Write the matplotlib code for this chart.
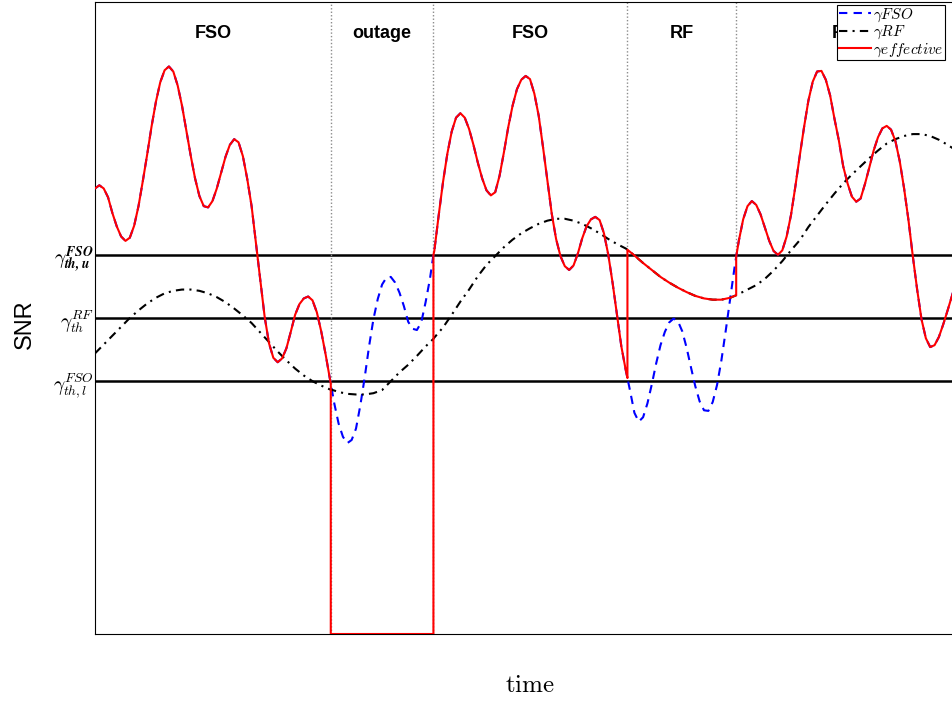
"""
Hybrid FSO/RF link: switching between links with hysteresis thresholds
"""
import numpy as np
import matplotlib
matplotlib.use("Agg")
import matplotlib.pyplot as plt

plt.rcParams['mathtext.fontset'] = 'cm'

# FSO link SNR, sampled every 0.05 time units
t_fso = np.round(np.arange(0, 10.001, 0.05), 2)
snr_fso = [7.05, 7.10, 7.05, 6.91, 6.66, 6.45, 6.29, 6.22, 6.27, 6.46,
           6.77, 7.17, 7.59, 8.03, 8.42, 8.73, 8.92, 8.98, 8.90, 8.68,
           8.36, 7.97, 7.57, 7.21, 6.93, 6.77, 6.75, 6.85, 7.05, 7.30,
           7.55, 7.74, 7.83, 7.78, 7.56, 7.20, 6.77, 6.18, 5.60, 5.02,
           4.60, 4.37, 4.30, 4.36, 4.52, 4.78, 5.05, 5.22, 5.31, 5.34,
           5.28, 5.09, 4.79, 4.43, 4.03, 3.65, 3.33, 3.12, 3.02, 3.07,
           3.25, 3.62, 4.06, 4.55, 4.98, 5.30, 5.53, 5.64, 5.65, 5.56,
           5.40, 5.19, 4.94, 4.83, 4.81, 4.93, 5.25, 5.62, 6.06, 6.62,
           7.15, 7.60, 7.95, 8.17, 8.24, 8.17, 7.99, 7.74, 7.46, 7.21,
           7.02, 6.94, 6.99, 7.25, 7.62, 8.02, 8.36, 8.62, 8.77, 8.83,
           8.78, 8.55, 8.20, 7.70, 7.18, 6.65, 6.25, 5.98, 5.82, 5.76,
           5.83, 6.02, 6.26, 6.45, 6.56, 6.60, 6.55, 6.34, 6.00, 5.55,
           5.05, 4.55, 4.18, 3.85, 3.50, 3.36, 3.43, 3.65, 3.95, 4.28,
           4.57, 4.78, 4.93, 4.99, 4.95, 4.79, 4.53, 4.22, 3.92, 3.68,
           3.54, 3.53, 3.67, 3.94, 4.33, 4.80, 5.30, 5.79, 6.22, 6.56,
           6.77, 6.85, 6.79, 6.64, 6.43, 6.22, 6.06, 6.00, 6.07, 6.29,
           6.63, 7.08, 7.56, 8.02, 8.44, 8.74, 8.90, 8.91, 8.77, 8.52,
           8.15, 7.81, 7.40, 7.13, 6.92, 6.84, 6.89, 7.12, 7.38, 7.65,
           7.86, 8.00, 8.04, 7.98, 7.80, 7.48, 7.05, 6.55, 5.98, 5.45,
           4.98, 4.68, 4.54, 4.57, 4.70, 4.90, 5.12, 5.35, 5.58, 5.80,
           6.00]

# RF link SNR, sampled every 0.1 time units
t_rf = np.round(np.arange(0, 10.001, 0.1), 2)
snr_rf = [4.44, 4.58, 4.72, 4.86, 5.00, 5.12, 5.23, 5.32, 5.39, 5.43,
          5.45, 5.45, 5.43, 5.39, 5.33, 5.25, 5.15, 5.04, 4.92, 4.77,
          4.62, 4.47, 4.33, 4.20, 4.09, 4.00, 3.93, 3.87, 3.83, 3.80,
          3.79, 3.79, 3.81, 3.86, 4.00, 4.14, 4.26, 4.40, 4.55, 4.69,
          4.85, 5.05, 5.26, 5.45, 5.66, 5.84, 5.98, 6.12, 6.24, 6.34,
          6.42, 6.49, 6.54, 6.57, 6.57, 6.54, 6.49, 6.42, 6.34, 6.25,
          6.17, 6.10, 5.99, 5.87, 5.76, 5.65, 5.56, 5.48, 5.41, 5.35,
          5.31, 5.29, 5.29, 5.32, 5.38, 5.45, 5.52, 5.62, 5.75, 5.90,
          6.07, 6.23, 6.44, 6.62, 6.80, 6.97, 7.13, 7.27, 7.40, 7.53,
          7.65, 7.76, 7.83, 7.88, 7.91, 7.91, 7.88, 7.82, 7.74, 7.65,
          7.55]

# switching instants and the SNR of each link at those instants
t_switch = [2.71, 3.89, 6.12, 7.37]
fso_switch = [3.96, 6.00, 4.05, 5.97]
rf_switch = [3.87, 4.67, 6.08, 5.36]
modes = ['FSO', 'outage', 'FSO', 'RF', 'FSO']

# thresholds
th_fso_upper = 6.0
th_rf = 5.0
th_fso_lower = 4.0
th_labels = [r'$\gamma^{\mathbfit{FSO}}_{\mathbfit{th,u}}$',
             r'$\gamma^{RF}_{th}$',
             r'$\gamma^{FSO}_{th,l}$']


def with_switches(t, y, y_sw):
    """Add the switching instants to a sampled trace."""
    tt = np.concatenate([t, t_switch])
    yy = np.concatenate([y, y_sw])
    order = np.argsort(tt, kind='stable')
    return tt[order], yy[order]


tf, yf = with_switches(t_fso, snr_fso, fso_switch)
tr, yr = with_switches(t_rf, snr_rf, rf_switch)

# effective SNR: whichever link is active in each mode, zero in outage
edges = [0.0] + t_switch + [10.0]
t_eff, snr_eff = [], []
for i, mode in enumerate(modes):
    lo, hi = edges[i], edges[i + 1]
    if mode == 'RF':
        m = (tr >= lo) & (tr <= hi)
        t_eff.extend(tr[m])
        snr_eff.extend(yr[m])
    else:
        m = (tf >= lo) & (tf <= hi)
        t_eff.extend(tf[m])
        snr_eff.extend(yf[m] if mode == 'FSO' else np.zeros(m.sum()))

fig = plt.figure(figsize=(9.53, 7.02), dpi=100)
# right edge runs past the figure, like the original cropped export
ax = fig.add_axes([95 / 953, 68 / 702, 870 / 953, 632 / 702])

for y in [th_fso_upper, th_rf, th_fso_lower]:
    ax.axhline(y, color='black', lw=1.8, zorder=1)

# mode boundaries
for i, ts in enumerate(t_switch):
    before, after = modes[i], modes[i + 1]
    if 'outage' in (before, after):
        lo = 0
    else:
        lo = max(fso_switch[i], rf_switch[i])
    ax.plot([ts, ts], [lo, 10], color='#8c8c8c', lw=1.0, ls=(0, (1, 1.5)),
            zorder=1)

ax.plot(tf, yf, color='blue', lw=1.5, ls=(0, (4, 3)),
        label=r'$\gamma FSO$', zorder=2)
ax.plot(tr, yr, color='black', lw=1.5, ls=(0, (4, 2.5, 1, 2.5)),
        label=r'$\gamma RF$', zorder=2)
ax.plot(t_eff, snr_eff, color='red', lw=1.5,
        label=r'$\gamma effective$', zorder=3)

# mode names centred over each interval
for i, mode in enumerate(modes):
    ax.text((edges[i] + edges[i + 1]) / 2, 9.5, mode, ha='center', va='center',
            fontsize=13, fontweight='bold', family='Liberation Sans')

ax.set_xlim(0, 10)
ax.set_ylim(0, 10)
ax.set_xticks([])
ax.set_yticks([th_fso_upper, th_rf, th_fso_lower])
ax.set_yticklabels(th_labels, fontsize=14)
ax.tick_params(axis='y', length=0, pad=1)

ax.set_ylabel('SNR', fontsize=17, family='Liberation Sans')
ax.yaxis.set_label_coords(-0.068, 0.49)
ax.set_xlabel(r'$\mathrm{time}$', fontsize=18)
ax.xaxis.set_label_coords(0.5, -0.062)

leg = ax.legend(loc='upper left', bbox_to_anchor=(742 / 870, 629 / 632),
                fontsize=11, borderpad=0.1, labelspacing=0.0,
                handlelength=2.1, handletextpad=0.15, borderaxespad=0,
                fancybox=False, framealpha=1)
leg.get_frame().set_edgecolor('black')
leg.get_frame().set_linewidth(0.8)

fig.savefig('out.png', dpi=100)
